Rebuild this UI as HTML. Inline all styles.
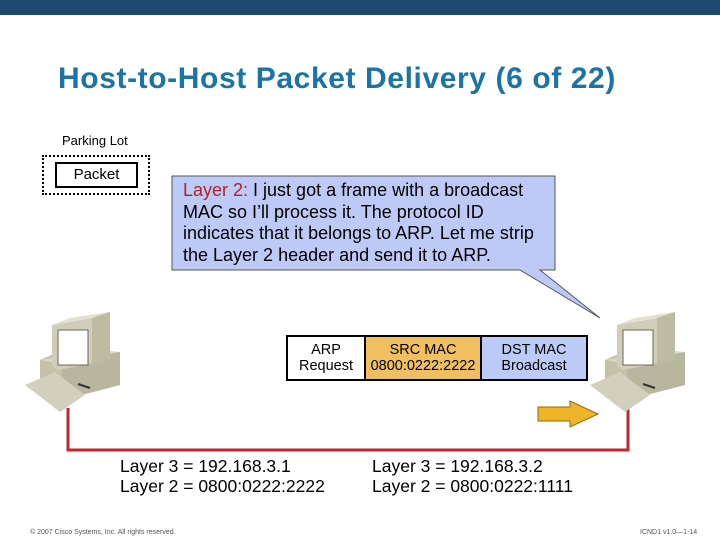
<!DOCTYPE html>
<html><head><style>
body{margin:0;width:720px;height:540px;background:#fff;position:relative;overflow:hidden;font-family:"Liberation Sans",sans-serif}
.a{position:absolute}
</style></head><body>
<div class="a" style="left:0;top:0;width:720px;height:15px;background:#1d4a6e"></div>
<div class="a" style="left:58px;top:62px;font-size:30px;font-weight:bold;color:#1b74a6;letter-spacing:0.6px">Host-to-Host Packet Delivery (6 of 22)</div>
<div class="a" style="left:62px;top:133px;font-size:13px">Parking Lot</div>
<div class="a" style="left:42px;top:155px;width:108px;height:40px;border:2px dotted #000;box-sizing:border-box"></div>
<div class="a" style="left:55px;top:162px;width:83px;height:26px;border:2px solid #000;box-sizing:border-box;font-size:15px;text-align:center;line-height:22px">Packet</div>
<svg class="a" style="left:0;top:0" width="720" height="540">
<polygon points="172,176 555,176 555,270 540,270 600,318 520,270 172,270" fill="#bdcaf5" stroke="#555" stroke-width="1"/>
<polyline points="68,408 68,450 628,450 628,408" fill="none" stroke="#c1272d" stroke-width="3"/>
<polygon points="538,407 570,407 570,401 598,414 570,427 570,421 538,421" fill="#f0b428" stroke="#8a6a10" stroke-width="1"/>
<defs>
<g id="pc">
<polygon points="40,360 58,352 120,352 120,385 62,400 40,390" fill="#c3c1a8"/>
<polygon points="40,360 98,350 120,352 62,364" fill="#d8d6c4"/>
<polygon points="62,364 120,352 120,385 62,400" fill="#b8b69c"/>
<line x1="78" y1="384" x2="90" y2="388" stroke="#333" stroke-width="2"/>
<polygon points="25,385 55,372 85,395 60,412" fill="#d2d0bc"/>
<polygon points="52,325 92,318 110,312 110,360 58,370 52,366" fill="#d0ceb8"/>
<polygon points="52,325 70,318 110,312 92,318" fill="#e2e0d0"/>
<polygon points="92,318 110,312 110,360 92,366" fill="#bdbba2"/>
<rect x="58" y="330" width="30" height="35" fill="#fff" stroke="#666"/>
</g>
</defs>
<use href="#pc"/>
<use href="#pc" x="565"/>
</svg>
<div class="a" style="left:183px;top:180px;font-size:18px;line-height:21.5px;color:#000">
<span style="color:#b3202a">Layer 2:</span> I just got a frame with a broadcast<br>MAC so I’ll process it. The protocol ID<br>indicates that it belongs to ARP. Let me strip<br>the Layer 2 header and send it to ARP.</div>
<div class="a" style="left:286px;top:335px;width:302px;height:46px;border:2px solid #000;box-sizing:border-box;display:flex;font-size:14.5px;text-align:center;line-height:16px">
<div style="width:76px;background:#fff;border-right:2px solid #000;padding-top:5px">ARP<br>Request</div>
<div style="width:114px;background:#f0c060;border-right:2px solid #000;padding-top:5px">SRC MAC<br>0800:0222:2222</div>
<div style="flex:1;background:#bccbf6;padding-top:5px">DST MAC<br>Broadcast</div>
</div>
<div class="a" style="left:120px;top:456px;font-size:17.5px;line-height:20px">Layer 3 = 192.168.3.1<br>Layer 2 = 0800:0222:2222</div>
<div class="a" style="left:372px;top:456px;font-size:17.5px;line-height:20px">Layer 3 = 192.168.3.2<br>Layer 2 = 0800:0222:1111</div>
<div class="a" style="left:30px;top:529px;font-size:7px;color:#555">© 2007 Cisco Systems, Inc. All rights reserved.</div>
<div class="a" style="left:640px;top:529px;font-size:7px;color:#555">ICND1 v1.0—1-14</div>
</body></html>
